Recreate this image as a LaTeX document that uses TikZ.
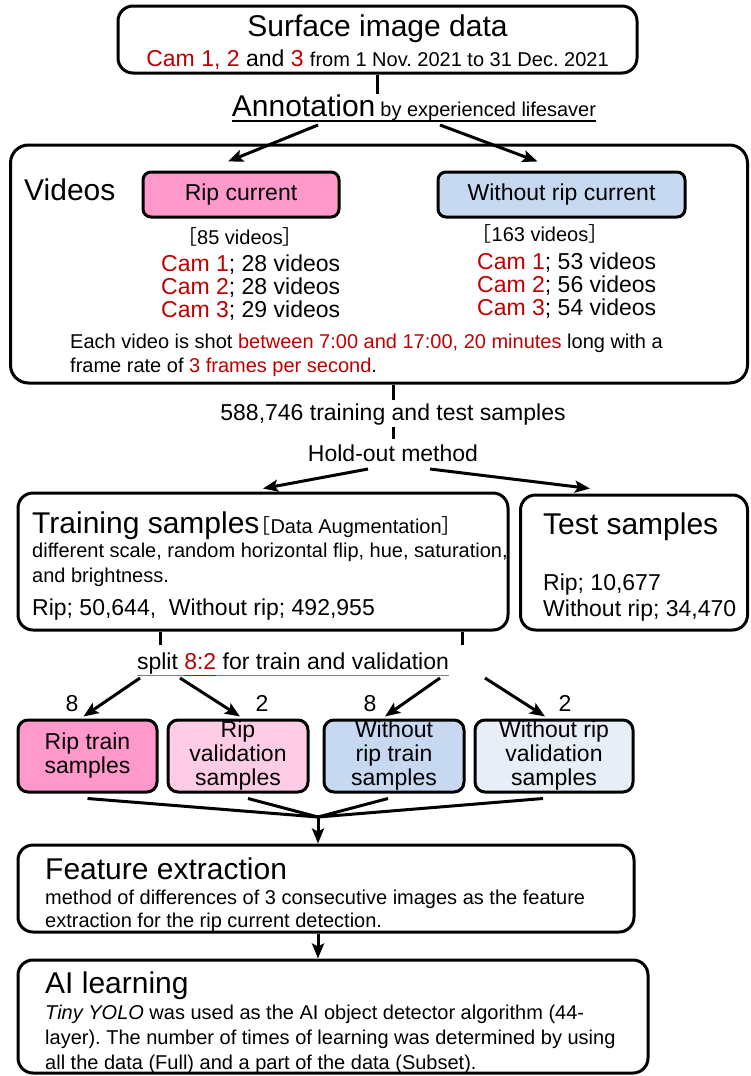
\documentclass[tikz,border=0pt]{standalone}
\usepackage{fontspec}
\setmainfont{Liberation Sans}
\newfontfamily\cjk{Noto Sans CJK JP}
\usetikzlibrary{arrows.meta}
\definecolor{myred}{HTML}{C00000}
\definecolor{pinkA}{HTML}{FF99CC}
\definecolor{pinkB}{HTML}{FFCCE5}
\definecolor{blueA}{HTML}{C6D9F1}
\definecolor{blueB}{HTML}{E7EEF8}
\newcommand\rd[1]{\textcolor{myred}{#1}}
\frenchspacing
\begin{document}
\begin{tikzpicture}[x=1pt,y=-1pt,
  rbox/.style={draw, line width=3pt, rounded corners=15pt, inner sep=0},
  sbox/.style={draw, line width=3pt, rounded corners=10pt, inner sep=0, align=center, font=\fontsize{23}{24}\selectfont},
  txt/.style={inner sep=0, anchor=base west},
  ctxt/.style={inner sep=0, anchor=base},
  fA/.style={font=\fontsize{30}{34}\selectfont},
  fB/.style={font=\fontsize{23}{24}\selectfont},
  fC/.style={font=\fontsize{20}{24}\selectfont},
  conn/.style={line width=3pt},
  arr/.style={conn, -{Stealth[length=15pt,width=12pt,inset=3pt]}}]
\useasboundingbox (0,0) rectangle (750,1076);

% top
\node[rbox, minimum width=519pt, minimum height=67pt] (top) at (377.5,39.5) {};
\node[ctxt, fA] (topt) at (377.5,36) {Surface image data};
\node[ctxt] (tops) at (377.5,66) {{\fontsize{23}{24}\selectfont\rd{Cam 1, 2} and \rd{3}\ }{\fontsize{20}{24}\selectfont from 1 Nov. 2021 to 31 Dec. 2021}};

\node[ctxt] (ann) at (414,116) {{\fontsize{30}{34}\selectfont Annotation}\hspace{5pt}{\fontsize{20}{24}\selectfont by experienced lifesaver}};
\draw[line width=1.4pt] ([yshift=-5pt]ann.base west) -- ([yshift=-5pt]ann.base east);
\draw[conn] (top.south) -- (top.south |- ann.north);

% videos
\node[rbox, minimum width=737pt, minimum height=238pt, rounded corners=18pt] (videos) at (379,264) {};
\node[txt, fA] (vt) at (24,200) {Videos};
\node[sbox, fill=pinkA, minimum width=196pt, minimum height=45pt, rounded corners=8pt] (rip) at (241,194.5) {Rip current};
\node[sbox, fill=blueA, minimum width=247pt, minimum height=45pt, rounded corners=8pt] (wo) at (561.5,194.5) {Without rip current};
\draw[arr] ([xshift=-96pt,yshift=-9pt]ann.base) -- ([xshift=-13pt,yshift=9pt]rip.north);
\draw[arr] ([xshift=26pt,yshift=-9pt]ann.base) -- ([xshift=-24pt,yshift=9pt]wo.north);

\node[ctxt, fC] (n85) at (240,244) {{\cjk ［}85 videos{\cjk ］}};
\node[txt, fB] (c1) at (161,271) {\rd{Cam 1}; 28 videos};
\node[txt, fB] (c2) at (161,294) {\rd{Cam 2}; 28 videos};
\node[txt, fB] (c3) at (161,317) {\rd{Cam 3}; 29 videos};
\node[ctxt, fC] (n163) at (540,241) {{\cjk ［}163 videos{\cjk ］}};
\node[txt, fB] (d1) at (477,269) {\rd{Cam 1}; 53 videos};
\node[txt, fB] (d2) at (477,292) {\rd{Cam 2}; 56 videos};
\node[txt, fB] (d3) at (477,315) {\rd{Cam 3}; 54 videos};
\node[txt, fC] (each1) at (70,348) {Each video is shot \rd{between 7:00 and 17:00, 20 minutes} long with a};
\node[txt, fC] (each2) at (70,372) {frame rate of \rd{3 frames per second}.};

% samples
\node[ctxt, fB] (samples) at (393,420) {588,746 training and test samples};
\draw[conn] (videos.south -| samples) -- ([yshift=3pt]samples.north);
\node[ctxt, fB] (holdout) at (393,461) {Hold-out method};
\draw[conn] ([yshift=-2pt]samples.south) -- ([yshift=5pt]holdout.north);

\node[rbox, minimum width=490pt, minimum height=137pt] (train) at (263,561.5) {};
\node[txt] (trt) at (32,533) {{\fontsize{30}{34}\selectfont Training samples}\hspace{-9pt}{\fontsize{20}{24}\selectfont{\cjk ［}Data Augmentation{\cjk ］}}};
\node[txt, fC] (tr1) at (32,557) {different scale, random horizontal flip, hue, saturation,};
\node[txt, fC] (tr2) at (32,582) {and brightness.};
\node[txt, fB] (tr3) at (32,615) {Rip; 50,644,\ \ Without rip; 492,955};

\node[rbox, minimum width=227pt, minimum height=135pt] (test) at (634,562.5) {};
\node[txt, fA] (tst) at (543,534) {Test samples};
\node[txt, fB] (ts1) at (543,590) {Rip; 10,677};
\node[txt, fB] (ts2) at (543,616) {Without rip; 34,470};

\draw[arr] ([xshift=-25pt,yshift=-8pt]holdout.base) -- ([yshift=3pt]train.north);
\draw[arr] ([xshift=37pt,yshift=-8pt]holdout.base) -- ([xshift=-44pt,yshift=5pt]test.north);

% split
\coordinate (s1) at (160,645);
\coordinate (s2) at (462,645);
\draw[conn] (s1 |- train.south) -- (s1);
\draw[conn] (s2 |- train.south) -- (s2);
\node[ctxt, fB] (split) at (293,669) {\textcolor{gray}{\underline{\textcolor{black}{\vphantom{p}split\ }}}\textcolor{myred}{\underline{\vphantom{p}8:2}}\textcolor{gray}{\underline{\textcolor{black}{\vphantom{p}\ for train and validation}}}};

\node[sbox, fill=pinkA, minimum width=139pt, minimum height=72pt] (rt) at (87.5,756) {Rip train\\samples};
\node[sbox, fill=pinkB, minimum width=140pt, minimum height=72pt] (rv) at (238,756) {Rip\\validation\\samples};
\node[sbox, fill=blueA, minimum width=140pt, minimum height=72pt] (wt) at (394,756) {Without\\rip train\\samples};
\node[sbox, fill=blueB, minimum width=158pt, minimum height=72pt] (wv) at (554,756) {Without rip\\validation\\samples};

\draw[arr] ([xshift=-153pt,yshift=-9pt]split.base) -- ([xshift=-4pt,yshift=2pt]rt.north);
\draw[arr] ([xshift=-113pt,yshift=-9pt]split.base) -- ([xshift=2pt,yshift=2pt]rv.north);
\draw[arr] ([xshift=147pt,yshift=-9pt]split.base) -- ([xshift=-9pt,yshift=2pt]wt.north);
\draw[arr] ([xshift=192pt,yshift=-9pt]split.base) -- ([xshift=-9pt,yshift=2pt]wv.north);
\node[ctxt, fB] (l8a) at (72,711) {8};
\node[ctxt, fB] (l2a) at (262,711) {2};
\node[ctxt, fB] (l8b) at (370,711) {8};
\node[ctxt, fB] (l2b) at (565,711) {2};

% merge
\coordinate (m) at (318,817);
\draw[conn] ([yshift=-5pt]rt.south) -- (m);
\draw[conn] ([xshift=10pt,yshift=-5pt]rv.south) -- (m);
\draw[conn] ([xshift=-6pt,yshift=-5pt]wt.south) -- (m);
\draw[conn] ([xshift=-11pt,yshift=-5pt]wv.south) -- (m);

% feature
\node[rbox, minimum width=616pt, minimum height=87pt] (feat) at (326,888.5) {};
\node[txt, fA] (ft) at (45,879) {Feature extraction};
\node[txt, fC] (f1) at (45,904) {method of differences of 3 consecutive images as the feature};
\node[txt, fC] (f2) at (45,927) {extraction for the rip current detection.};
\draw[arr] (m) -- (feat.north -| m);

% AI
\node[rbox, minimum width=630pt, minimum height=113pt] (ai) at (333,1016.5) {};
\node[txt, fA] (at) at (45,993) {AI learning};
\node[txt, fC] (a1) at (45,1019) {\textit{Tiny YOLO} was used as the AI object detector algorithm (44-};
\node[txt, fC] (a2) at (45,1044) {layer). The number of times of learning was determined by using};
\node[txt, fC] (a3) at (45,1069) {all the data (Full) and a part of the data (Subset).};
\draw[arr] (feat.south -| m) -- (ai.north -| m);
\end{tikzpicture}
\end{document}
